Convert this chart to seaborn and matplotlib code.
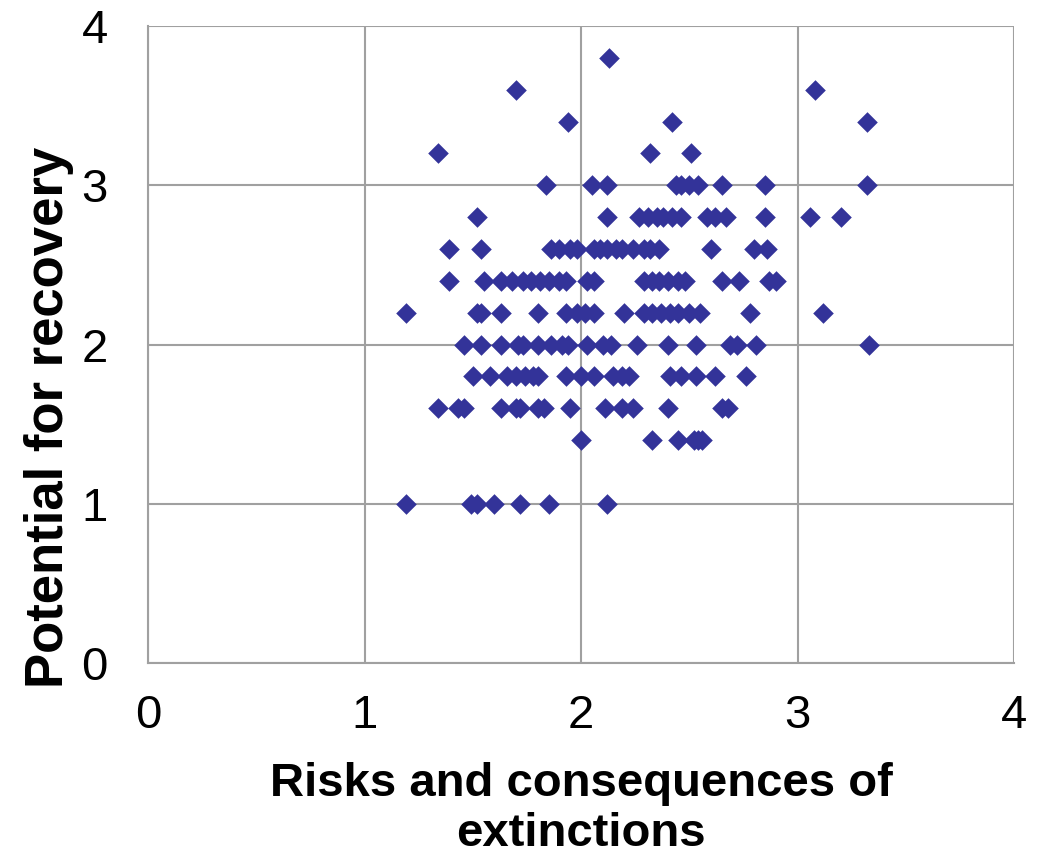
import matplotlib
matplotlib.use("Agg")
import matplotlib.pyplot as plt
import seaborn as sns
import pandas as pd

# x values of points for each y level (y values are quantised in steps of 0.2)
x_at_3_8 = [2.13]
x_at_3_6 = [1.70, 3.08]
x_at_3_4 = [1.94, 2.42, 3.32]
x_at_3_2 = [1.34, 2.32, 2.51]
x_at_3_0 = [1.84, 2.05, 2.12, 2.44, 2.46, 2.50, 2.54, 2.65, 2.85, 3.32]
x_at_2_8 = [1.52, 2.12, 2.27, 2.31, 2.35, 2.38, 2.42, 2.46, 2.58, 2.62, 2.67,
            2.85, 3.06, 3.20]
x_at_2_6 = [1.39, 1.54, 1.86, 1.90, 1.95, 1.98, 2.06, 2.09, 2.12, 2.16, 2.19,
            2.24, 2.29, 2.32, 2.36, 2.60, 2.80, 2.86]
x_at_2_4 = [1.39, 1.55, 1.63, 1.68, 1.73, 1.77, 1.81, 1.85, 1.90, 1.93, 2.03,
            2.06, 2.29, 2.33, 2.36, 2.40, 2.45, 2.48, 2.65, 2.73, 2.87, 2.90]
x_at_2_2 = [1.19, 1.52, 1.54, 1.63, 1.80, 1.93, 1.98, 2.02, 2.06, 2.20, 2.29,
            2.33, 2.37, 2.41, 2.45, 2.50, 2.55, 2.78, 3.12]
x_at_2_0 = [1.46, 1.54, 1.63, 1.71, 1.73, 1.80, 1.86, 1.91, 1.94, 2.03, 2.10,
            2.14, 2.26, 2.40, 2.53, 2.69, 2.72, 2.81, 3.33]
x_at_1_8 = [1.50, 1.58, 1.66, 1.70, 1.74, 1.78, 1.80, 1.93, 2.00, 2.06, 2.15,
            2.19, 2.22, 2.41, 2.46, 2.53, 2.62, 2.76]
x_at_1_6 = [1.34, 1.43, 1.46, 1.63, 1.70, 1.72, 1.80, 1.83, 1.95, 2.11, 2.19,
            2.24, 2.40, 2.65, 2.68]
x_at_1_4 = [2.00, 2.33, 2.45, 2.52, 2.54, 2.56]
x_at_1_0 = [1.19, 1.49, 1.52, 1.60, 1.72, 1.85, 2.12]

rows = {
    3.8: x_at_3_8, 3.6: x_at_3_6, 3.4: x_at_3_4, 3.2: x_at_3_2,
    3.0: x_at_3_0, 2.8: x_at_2_8, 2.6: x_at_2_6, 2.4: x_at_2_4,
    2.2: x_at_2_2, 2.0: x_at_2_0, 1.8: x_at_1_8, 1.6: x_at_1_6,
    1.4: x_at_1_4, 1.0: x_at_1_0,
}

axis_ticks = [0, 1, 2, 3, 4]
x_label = "Risks and consequences of\nextinctions"
y_label = "Potential for recovery"

xs, ys = [], []
for yv, xl in rows.items():
    xs.extend(xl)
    ys.extend([yv] * len(xl))
df = pd.DataFrame({"risk": xs, "recovery": ys})

sns.set_theme(style="white")
plt.rcParams["font.family"] = ["Liberation Sans", "DejaVu Sans"]

fig = plt.figure(figsize=(10.43, 8.58), dpi=100)
ax = fig.add_axes([148 / 1043, 1 - 663 / 858, 866 / 1043, 637 / 858])

grid_col = "#a0a0a0"
sns.scatterplot(data=df, x="risk", y="recovery", ax=ax, marker="D", s=110,
                color="#333399", linewidth=0, zorder=3, legend=False)

ax.set_xlim(0, 4)
ax.set_ylim(0, 4)
ax.set_xticks(axis_ticks)
ax.set_yticks(axis_ticks)
ax.grid(True, color=grid_col, linewidth=1.5, zorder=0)
ax.set_axisbelow(True)
for side in ["top", "right"]:
    ax.spines[side].set_visible(False)
for side in ["left", "bottom"]:
    ax.spines[side].set_color(grid_col)
    ax.spines[side].set_linewidth(1.5)

ax.tick_params(axis="both", which="major", direction="out", length=10,
               width=1.5, color=grid_col, labelsize=34, labelcolor="black")
ax.tick_params(axis="x", pad=12)
ax.tick_params(axis="y", pad=19)

ax.set_xlabel(x_label, fontsize=34, fontweight="bold", color="black",
              linespacing=1.18)
ax.set_ylabel(y_label, fontsize=38, fontweight="bold", color="black")
ax.xaxis.set_label_coords(0.5, -0.156)
ax.yaxis.set_label_coords(-0.086, 0.385)

fig.savefig("out.png", dpi=100)
